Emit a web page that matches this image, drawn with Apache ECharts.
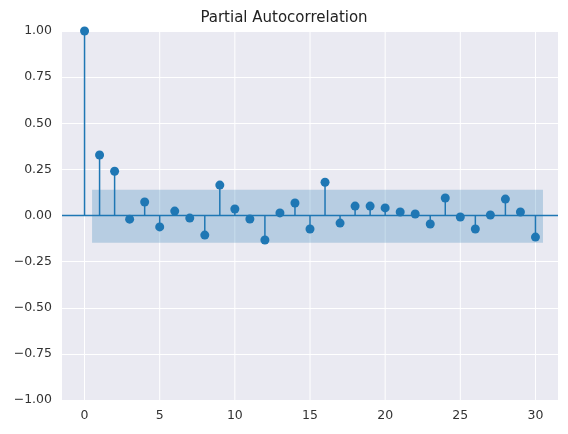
<!DOCTYPE html>
<html><head><meta charset="utf-8">
<script src="https://cdn.jsdelivr.net/npm/echarts@6/dist/echarts.min.js"></script>
</head><body style="margin:0">
<div id="c" style="width:568px;height:434px"></div>
<script>
const lags = [0,1,2,3,4,5,6,7,8,9,10,11,12,13,14,15,16,17,18,19,20,21,22,23,24,25,26,27,28,29,30];
const pacf = [1.0,0.328,0.24,-0.02,0.073,-0.062,0.024,-0.014,-0.106,0.165,0.035,-0.019,-0.133,0.014,0.068,-0.073,0.18,-0.041,0.051,0.051,0.041,0.019,0.008,-0.046,0.095,-0.008,-0.073,0.003,0.089,0.019,-0.117];
const bandUpper = 0.14, bandLower = -0.148;
const bandStart = 0.5, bandEnd = 30.5;
const xTicks = [0,5,10,15,20,25,30];
const blue = '#1f77b4';
const chart = echarts.init(document.getElementById('c'));
const fmt = v => (v < 0 ? '\u2212' + Math.abs(v).toFixed(2) : v.toFixed(2));
chart.setOption({
  animation:false,
  title:{text:'Partial Autocorrelation',left:'center',top:6,textStyle:{fontFamily:'DejaVu Sans',fontSize:15,fontWeight:'normal',color:'#222'}},
  grid:{left:62,right:10,top:31,bottom:34,show:true,backgroundColor:'#EAEAF2',borderWidth:0},
  xAxis:{type:'value',min:-1.5,max:31.5,axisLine:{show:false},axisTick:{show:false},splitLine:{show:false},
    axisLabel:{customValues:xTicks,color:'#333',fontFamily:'DejaVu Sans',fontSize:12.5,margin:9}},
  yAxis:{type:'value',min:-1,max:1,interval:0.25,axisLine:{show:false},axisTick:{show:false},
    splitLine:{lineStyle:{color:'#fff',width:1}},
    axisLabel:{formatter:fmt,color:'#333',fontFamily:'DejaVu Sans',fontSize:12.5,margin:10}},
  series:[
    {type:'custom',silent:true,z:0,data:xTicks.map(v=>[v]),
      renderItem:(p,api)=>{const a=api.coord([api.value(0),-1]);const b=api.coord([api.value(0),1]);
        return {type:'line',shape:{x1:a[0],y1:a[1],x2:b[0],y2:b[1]},style:{stroke:'#fff',lineWidth:1}};}},
    {type:'custom',silent:true,z:1,data:[[bandStart,bandEnd,bandLower,bandUpper]],
      renderItem:(p,api)=>{const a=api.coord([api.value(0),api.value(3)]);const b=api.coord([api.value(1),api.value(2)]);
        return {type:'rect',shape:{x:a[0],y:a[1],width:b[0]-a[0],height:b[1]-a[1]},style:{fill:'rgba(31,119,180,0.25)'}};}},
    {type:'custom',silent:true,z:2,data:[[-1.5,31.5]],
      renderItem:(p,api)=>{const a=api.coord([api.value(0),0]);const b=api.coord([api.value(1),0]);
        return {type:'line',shape:{x1:a[0],y1:a[1],x2:b[0],y2:b[1]},style:{stroke:blue,lineWidth:1.5}};}},
    {type:'custom',z:3,data:lags.map((l,i)=>[l,pacf[i]]),
      renderItem:(p,api)=>{const a=api.coord([api.value(0),0]);const b=api.coord([api.value(0),api.value(1)]);
        return {type:'line',shape:{x1:a[0],y1:a[1],x2:b[0],y2:b[1]},style:{stroke:blue,lineWidth:1.5}};}},
    {type:'scatter',z:4,symbolSize:9,itemStyle:{color:blue,opacity:1},data:lags.map((l,i)=>[l,pacf[i]])}
  ]
});
</script></body></html>
